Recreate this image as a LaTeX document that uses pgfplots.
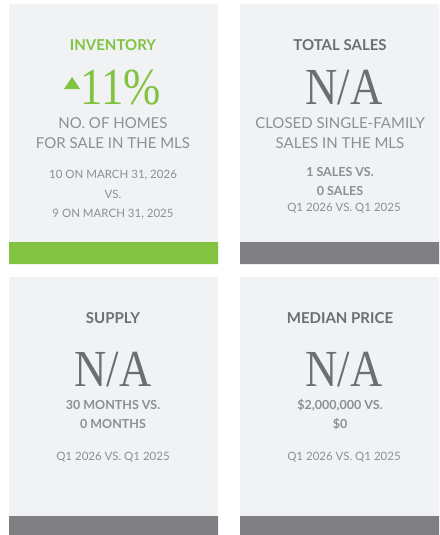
\documentclass[border=0pt]{standalone}
\usepackage{fontspec}
\setsansfont{Lato}
\newfontfamily\bigserif{Liberation Serif}
\renewcommand{\familydefault}{\sfdefault}
\usepackage{pgfplots}
\pgfplotsset{compat=1.18}
\definecolor{panelbg}{HTML}{F1F2F4}
\definecolor{mygreen}{HTML}{82C341}
\definecolor{bargray}{HTML}{808084}
\definecolor{titlegray}{HTML}{6D6E71}
\definecolor{textgray}{HTML}{8E8F92}
\tikzset{
  tTl/.style={font=\fontsize{15}{16}\selectfont\bfseries},
  tBody/.style={font=\fontsize{15}{20}\selectfont, align=center},
  tSm/.style={font=\fontsize{11.5}{19.5}\selectfont, align=center},
  tSb/.style={font=\fontsize{12.5}{19}\selectfont\bfseries, align=center},
  tBig/.style={font=\fontsize{52}{52}\selectfont\bigserif, xscale=0.86},
}
\begin{document}
\begin{tikzpicture}
\begin{axis}[
  width=439pt, height=535pt, scale only axis,
  xmin=0, xmax=439, ymin=0, ymax=535, y dir=reverse,
  hide axis, clip=false, enlargelimits=false,
]
% background
\addplot[fill=white, draw=none] coordinates {(0,0) (439,0) (439,535) (0,535) (0,0)};
% panels
\addplot[fill=panelbg, draw=none] coordinates {(9,4) (218,4) (218,264) (9,264) (9,4)};
\addplot[fill=panelbg, draw=none] coordinates {(240,4) (439,4) (439,264) (240,264) (240,4)};
\addplot[fill=panelbg, draw=none] coordinates {(9,277) (218,277) (218,535) (9,535) (9,277)};
\addplot[fill=panelbg, draw=none] coordinates {(240,277) (439,277) (439,535) (240,535) (240,277)};
% bottom bars
\addplot[fill=mygreen, draw=none] coordinates {(9,242) (218,242) (218,264) (9,264) (9,242)};
\addplot[fill=bargray, draw=none] coordinates {(240,242) (439,242) (439,264) (240,264) (240,242)};
\addplot[fill=bargray, draw=none] coordinates {(9,516) (218,516) (218,535) (9,535) (9,516)};
\addplot[fill=bargray, draw=none] coordinates {(240,516) (439,516) (439,535) (240,535) (240,516)};
% up triangle
\addplot[fill=mygreen, draw=none] coordinates {(64,89) (80,89) (72,77) (64,89)};

% Panel 1
\node[text=mygreen, tTl] at (axis cs:113,45) {INVENTORY};
\node[text=mygreen, tBig] at (axis cs:121,88) {11\%};
\node[text=textgray, tBody] at (axis cs:113,133) {NO. OF HOMES\\FOR SALE IN THE MLS};
\node[text=textgray, tSm] at (axis cs:113,195) {10 ON MARCH 31, 2026\\VS.\\9 ON MARCH 31, 2025};

% Panel 2
\node[text=titlegray, tTl] at (axis cs:340,45) {TOTAL SALES};
\node[text=titlegray, tBig] at (axis cs:344,88) {N/A};
\node[text=textgray, tBody] at (axis cs:340,133) {CLOSED SINGLE-FAMILY\\SALES IN THE MLS};
\node[text=textgray, tSb] at (axis cs:340,181.5) {1 SALES VS.\\0 SALES};
\node[text=textgray, tSm] at (axis cs:344,208) {Q1 2026 VS. Q1 2025};

% Panel 3
\node[text=titlegray, tTl] at (axis cs:113,318) {SUPPLY};
\node[text=titlegray, tBig] at (axis cs:113,370) {N/A};
\node[text=textgray, tSb] at (axis cs:113,414) {30 MONTHS VS.\\0 MONTHS};
\node[text=textgray, tSm] at (axis cs:113,457) {Q1 2026 VS. Q1 2025};

% Panel 4
\node[text=titlegray, tTl] at (axis cs:340,318) {MEDIAN PRICE};
\node[text=titlegray, tBig] at (axis cs:344,370) {N/A};
\node[text=textgray, tSb] at (axis cs:340,414.5) {\$2,000,000 VS.\\\$0};
\node[text=textgray, tSm] at (axis cs:344,457) {Q1 2026 VS. Q1 2025};
\end{axis}
\end{tikzpicture}
\end{document}
